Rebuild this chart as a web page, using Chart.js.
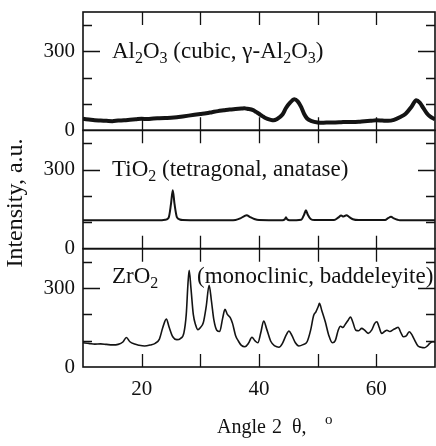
<!DOCTYPE html>
<html>
<head>
<meta charset="utf-8">
<script src="https://cdn.jsdelivr.net/npm/chart.js@4.4.1/dist/chart.umd.min.js"></script>
<style>
  html, body { margin: 0; padding: 0; background: #fff; }
</style>
</head>
<body>
<canvas id="xrdChart" width="436" height="446"></canvas>
<script>
// XRD patterns: 2θ (degrees) against intensity (a.u.), one panel per oxide
const alAngle = [10, 11, 12, 13, 14, 15, 16, 17, 18, 19, 20, 21, 22, 23, 24, 25, 26, 27, 28, 29, 30,
  31, 32, 33, 34, 35, 36, 37, 37.5, 38, 39, 39.5, 40, 40.5, 41, 42, 42.5, 43, 44, 44.6, 45.3, 46, 46.6,
  47.2, 47.7, 48.2, 49, 50, 51, 52, 53, 54, 55, 56, 57, 58, 59, 60, 61, 62, 63, 64, 65, 66, 66.8, 67.4,
  68, 68.6, 69.2, 70];
const alIntensity = [44, 41, 38, 37, 36, 35, 37, 38, 40, 42, 44, 43, 45, 46, 47, 48, 50, 53, 56, 59, 62,
  65, 69, 73, 76, 79, 81, 83, 84, 82, 77, 70, 63, 55, 48, 40, 38, 42, 60, 85, 105, 118, 110,
  88, 62, 45, 35, 30, 29, 30, 30, 31, 32, 32, 33, 35, 36, 38, 37, 36, 40, 50, 63, 90, 114, 105,
  85, 65, 52, 42];

const tiAngle = [10, 15, 20, 23, 24, 24.6, 25.0, 25.3, 25.6, 26.0, 26.5, 27, 30, 35, 36, 36.8, 37.5, 37.9,
  38.5, 39.2, 40, 44, 44.4, 44.6, 44.8, 45.2, 47.2, 47.7, 48.0, 48.3, 48.8, 49.5, 52.8, 53.5, 54.0, 54.4,
  54.9, 55.4, 56, 57, 61.5, 62.0, 62.5, 63.0, 63.6, 64, 70];
const tiIntensity = [108, 108, 108, 108, 110, 118, 170, 222, 170, 120, 111, 109, 108, 108, 109, 115, 124, 127,
  120, 113, 109, 108, 112, 119, 112, 108, 110, 130, 146, 130, 113, 109, 109, 118, 126, 122,
  127, 120, 112, 109, 109, 116, 121, 115, 110, 108, 108];

const zrAngle = [10, 11, 12, 13, 14, 15, 16, 16.8, 17.4, 18, 18.8, 19.5, 20.5, 21.5, 22.3, 23, 23.6, 24.2,
  24.7, 25.3, 26.0, 26.6, 27.2, 27.6, 27.9, 28.1, 28.4, 28.8, 29.2, 29.6, 30.0, 30.5, 31.0, 31.5, 31.9,
  32.3, 32.8, 33.3, 33.8, 34.2, 34.6, 35.1, 35.5, 36.0, 36.5, 37.0, 37.6, 38.2, 38.8, 39.3, 39.8, 40.3,
  40.8, 41.3, 42.0, 42.7, 43.4, 44.0, 44.6, 45.1, 45.6, 46.2, 46.8, 47.5, 48.2, 48.8, 49.3, 49.7, 50.1,
  50.3, 50.7, 51.3, 51.9, 52.5, 53.0, 53.5, 53.9, 54.3, 54.7, 55.2, 55.6, 56.0, 56.5, 57.0, 57.5, 58.0,
  58.6, 59.2, 59.7, 60.1, 60.5, 60.9, 61.4, 61.8, 62.3, 62.9, 63.4, 63.7, 64.2, 64.6, 65.1, 65.6, 66.0,
  66.4, 67.1, 67.6, 68.2, 68.7, 69.1, 69.7, 70];
const zrIntensity = [92, 90, 87, 88, 86, 84, 86, 95, 112, 96, 87, 83, 80, 84, 90, 105, 150, 182,
  150, 115, 104, 108, 130, 200, 320, 368, 300, 200, 160, 142, 150, 168, 230, 311, 250,
  180, 140, 135, 185, 219, 200, 188, 165, 120, 98, 82, 77, 90, 113, 100, 92, 130,
  175, 145, 98, 80, 75, 90, 120, 137, 120, 92, 80, 85, 96, 140, 195, 210, 230,
  242, 215, 172, 120, 92, 100, 140, 155, 150, 162, 178, 190, 170, 140, 138, 147, 140,
  128, 140, 165, 172, 150, 128, 135, 140, 135, 142, 148, 151, 130, 115, 118, 134, 125,
  108, 80, 75, 73, 80, 90, 96, 95];

const xTickLabels = [20, 40, 60];
const xTickMarks = [20, 30, 40, 50, 60];
const yTickLabels = [0, 300];
const yTickMarks = [100, 200, 300, 400];

const panelLabels = [
  { axis: 'yAl', x: 112, value: 300, dy: 7, parts: [['Al'], ['2', 1], ['O'], ['3', 1], [' (cubic, γ-Al'], ['2', 1], ['O'], ['3', 1], [')']] },
  { axis: 'yTi', x: 112, value: 300, dy: 6, parts: [['Ti'], ['O'], ['2', 1], [' (tetragonal, anatase)']] },
  { axis: 'yZr', x: 112, value: 300, dy: -5, parts: [['Zr'], ['O'], ['2', 1]] },
  { axis: 'yZr', x: 197, value: 300, dy: -5, parts: [['(monoclinic, baddeleyite)']] }
];

const FONT = '"Liberation Serif", "Times New Roman", serif';
const TICK_SIZE = 21;
const LABEL_SIZE = 23;

function xy(xs, ys) {
  return xs.map((x, i) => ({ x: x, y: ys[i] }));
}

function drawRich(ctx, parts, x, y) {
  ctx.textAlign = 'left';
  ctx.textBaseline = 'alphabetic';
  for (const [txt, sub] of parts) {
    const size = sub ? 16 : LABEL_SIZE;
    ctx.font = size + 'px ' + FONT;
    ctx.fillText(txt, x, sub ? y + 5 : y);
    x += ctx.measureText(txt).width;
  }
}

// frames, inward ticks, tick labels and captions for the three stacked panels
const panelDecor = {
  id: 'panelDecor',
  afterDatasetsDraw(chart) {
    const ctx = chart.ctx;
    const xs = chart.scales.x;
    const left = chart.chartArea.left;
    const right = chart.chartArea.right;
    ctx.save();
    ctx.strokeStyle = '#111';
    ctx.fillStyle = '#111';

    ['yAl', 'yTi', 'yZr'].forEach(id => {
      const ys = chart.scales[id];
      const top = ys.top;
      const bottom = ys.bottom;
      ctx.lineWidth = 1.6;
      ctx.strokeRect(left, top, right - left, bottom - top);

      ctx.lineWidth = 1.3;
      ctx.beginPath();
      xTickMarks.forEach(v => {
        const px = Math.round(xs.getPixelForValue(v)) + 0.5;
        ctx.moveTo(px, top);
        ctx.lineTo(px, top + 13);
        ctx.moveTo(px, bottom);
        ctx.lineTo(px, bottom - 13);
      });
      yTickMarks.forEach(v => {
        const py = Math.round(ys.getPixelForValue(v)) + 0.5;
        const len = v === 300 ? 17 : 9;
        ctx.moveTo(left, py);
        ctx.lineTo(left + len, py);
        ctx.moveTo(right, py);
        ctx.lineTo(right - len, py);
      });
      ctx.stroke();

      ctx.font = TICK_SIZE + 'px ' + FONT;
      ctx.textAlign = 'right';
      ctx.textBaseline = 'middle';
      yTickLabels.forEach(v => {
        ctx.fillText(String(v), left - 8, ys.getPixelForValue(v));
      });
    });

    panelLabels.forEach(p => {
      const ys = chart.scales[p.axis];
      drawRich(ctx, p.parts, p.x, ys.getPixelForValue(p.value) + p.dy);
    });

    // y axis title
    ctx.save();
    ctx.translate(16, 203);
    ctx.rotate(-Math.PI / 2);
    ctx.font = '24px ' + FONT;
    ctx.textAlign = 'center';
    ctx.textBaseline = 'middle';
    ctx.fillText('Intensity, a.u.', 0, 0);
    ctx.restore();

    // x axis title, loosely spaced, with a superscript degree mark
    ctx.font = '20px ' + FONT;
    ctx.textAlign = 'left';
    ctx.textBaseline = 'alphabetic';
    ctx.fillText('Angle', 217, 433);
    ctx.fillText('2', 272, 433);
    ctx.fillText('θ,', 292, 433);
    ctx.font = '15px ' + FONT;
    ctx.fillText('o', 325, 424);
    ctx.restore();
  }
};

function yAxis(weight) {
  return { type: 'linear', min: 0, max: 450, stack: 'panels', stackWeight: 1, weight: weight, display: false };
}

function series(data, axis, width) {
  return {
    data: data,
    yAxisID: axis,
    borderColor: '#141414',
    borderWidth: width,
    pointRadius: 0,
    cubicInterpolationMode: 'monotone',
    fill: false
  };
}

new Chart(document.getElementById('xrdChart'), {
  type: 'line',
  data: {
    datasets: [
      series(xy(alAngle, alIntensity), 'yAl', 4),
      series(xy(tiAngle, tiIntensity), 'yTi', 2),
      series(xy(zrAngle, zrIntensity), 'yZr', 1.6)
    ]
  },
  options: {
    responsive: false,
    animation: false,
    layout: { padding: { left: 83, right: 1, top: 12, bottom: 0 } },
    plugins: { legend: { display: false }, tooltip: { enabled: false } },
    scales: {
      x: {
        type: 'linear',
        min: 10,
        max: 70,
        grid: { display: false, drawTicks: false },
        border: { display: false },
        ticks: {
          stepSize: 10,
          autoSkip: false,
          maxRotation: 0,
          padding: 10,
          color: '#111',
          font: { family: FONT, size: TICK_SIZE },
          callback: v => xTickLabels.includes(v) ? String(v) : ''
        },
        afterFit: s => {
          s.height = 79;
          s.paddingLeft = 0;
          s.paddingRight = 0;
        }
      },
      yAl: yAxis(3),
      yTi: yAxis(2),
      yZr: yAxis(1)
    }
  },
  plugins: [panelDecor]
});
</script>
</body>
</html>
